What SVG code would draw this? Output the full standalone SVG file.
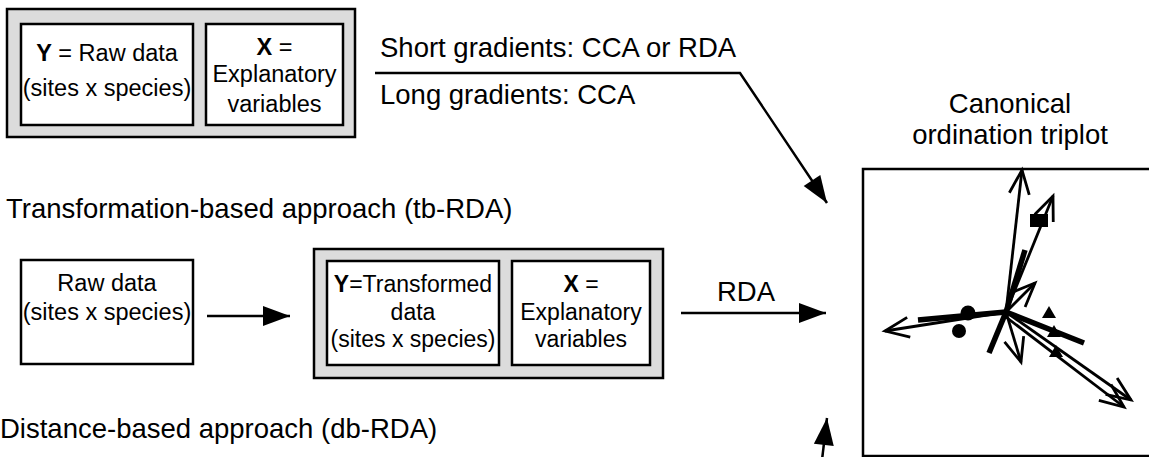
<svg xmlns="http://www.w3.org/2000/svg" width="1149" height="457" viewBox="0 0 1149 457">
<style>
text{font-family:"Liberation Sans",Arial,sans-serif;fill:#000}
.big{font-size:27.5px}
.bx{font-size:23.5px;text-anchor:middle}
.bx2{font-size:23px;text-anchor:middle}
.gray{fill:#dcdcdc;stroke:#000;stroke-width:2.5}
.box{fill:#fff;stroke:#000;stroke-width:2.5}
.conn{fill:none;stroke:#000;stroke-width:2.5}
.vec{fill:none;stroke:#000;stroke-width:2.8;marker-end:url(#chev)}
.thk{fill:none;stroke:#000;stroke-width:5.5}
</style>
<defs>
<marker id="tri" markerUnits="userSpaceOnUse" markerWidth="30" markerHeight="22" refX="27" refY="10" orient="auto" overflow="visible"><path d="M0,0 L27,10 L0,20 Z" fill="#000"/></marker>
<marker id="chev" markerUnits="userSpaceOnUse" markerWidth="30" markerHeight="24" refX="24" refY="12" orient="auto" overflow="visible"><path d="M0,2 L24,12 L0,22" fill="none" stroke="#000" stroke-width="2.8"/></marker>
</defs>
<rect width="1149" height="457" fill="#fff"/>

<g id="top-group">
<rect class="gray" x="7" y="9" width="348" height="128"/>
<g id="top-Y">
<rect class="box" x="21" y="24" width="172" height="101"/>
<text class="bx" x="107" y="61"><tspan font-weight="bold">Y</tspan> = Raw data</text>
<text class="bx" x="107" y="96">(sites x species)</text>
</g>
<g id="top-X">
<rect class="box" x="206" y="24" width="137" height="101"/>
<text class="bx" x="274.5" y="55"><tspan font-weight="bold">X</tspan> =</text>
<text class="bx" x="274.5" y="82">Explanatory</text>
<text class="bx" x="274.5" y="112">variables</text>
</g>
</g>

<g id="gradient-labels">
<text class="big" x="380" y="57">Short gradients: CCA or RDA</text>
<text class="big" x="380" y="104">Long gradients: CCA</text>
</g>

<text id="tb-title" class="big" x="6" y="218">Transformation-based approach (tb-RDA)</text>
<text id="db-title" class="big" x="0" y="438">Distance-based approach (db-RDA)</text>

<g id="raw-data">
<rect class="box" x="21" y="260" width="172" height="104"/>
<text class="bx" x="107" y="291">Raw data</text>
<text class="bx" x="107" y="320">(sites x species)</text>
</g>

<g id="mid-group">
<rect class="gray" x="314" y="249" width="349" height="129"/>
<g id="mid-Y">
<rect class="box" x="327" y="261" width="172" height="104"/>
<text class="bx2" x="413" y="292"><tspan font-weight="bold">Y</tspan>=Transformed</text>
<text class="bx2" x="413" y="320">data</text>
<text class="bx2" x="413" y="347">(sites x species)</text>
</g>
<g id="mid-X">
<rect class="box" x="512" y="261" width="138" height="104"/>
<text class="bx2" x="581" y="292"><tspan font-weight="bold">X</tspan> =</text>
<text class="bx2" x="581" y="320">Explanatory</text>
<text class="bx2" x="581" y="347">variables</text>
</g>
</g>

<text id="rda-label" class="big" x="746" y="301" text-anchor="middle">RDA</text>

<g id="connectors">
<polyline class="conn" points="375,73 740,73 827,203" marker-end="url(#tri)"/>
<line class="conn" x1="207" y1="316" x2="290" y2="316" marker-end="url(#tri)"/>
<line class="conn" x1="681" y1="313" x2="826" y2="313" marker-end="url(#tri)"/>
<line class="conn" x1="822" y1="460" x2="827" y2="418" marker-end="url(#tri)"/>
</g>

<g id="triplot">
<text class="big" x="1010" y="113" text-anchor="middle">Canonical</text>
<text class="big" x="1010" y="144" text-anchor="middle">ordination triplot</text>
<rect x="863" y="169" width="300" height="287" fill="#fff" stroke="#000" stroke-width="2.5"/>
<line class="thk" x1="918" y1="320" x2="1006" y2="312"/>
<line class="thk" x1="1006" y1="312" x2="1025" y2="250"/>
<line class="thk" x1="1006" y1="312" x2="989" y2="353"/>
<line class="thk" x1="1006" y1="312" x2="1084" y2="343"/>
<line class="vec" x1="1006" y1="312" x2="1022" y2="170"/>
<line class="vec" x1="1006" y1="312" x2="1053" y2="196"/>
<line class="vec" x1="1006" y1="312" x2="1035" y2="283"/>
<line class="vec" x1="1006" y1="312" x2="885" y2="331"/>
<line class="vec" x1="1006" y1="312" x2="1021" y2="362"/>
<line class="vec" x1="1006" y1="312" x2="1131" y2="400"/>
<line class="vec" x1="1006" y1="317" x2="1124" y2="407"/>
<circle cx="968" cy="313" r="7.5"/>
<circle cx="959" cy="331" r="7"/>
<rect x="1030" y="214" width="18" height="13"/>
<path d="M1049,306 L1056,318 L1042,318 Z"/>
<path d="M1054,325 L1061,337 L1047,337 Z"/>
<path d="M1056,345 L1063,357 L1049,357 Z"/>
</g>
</svg>
